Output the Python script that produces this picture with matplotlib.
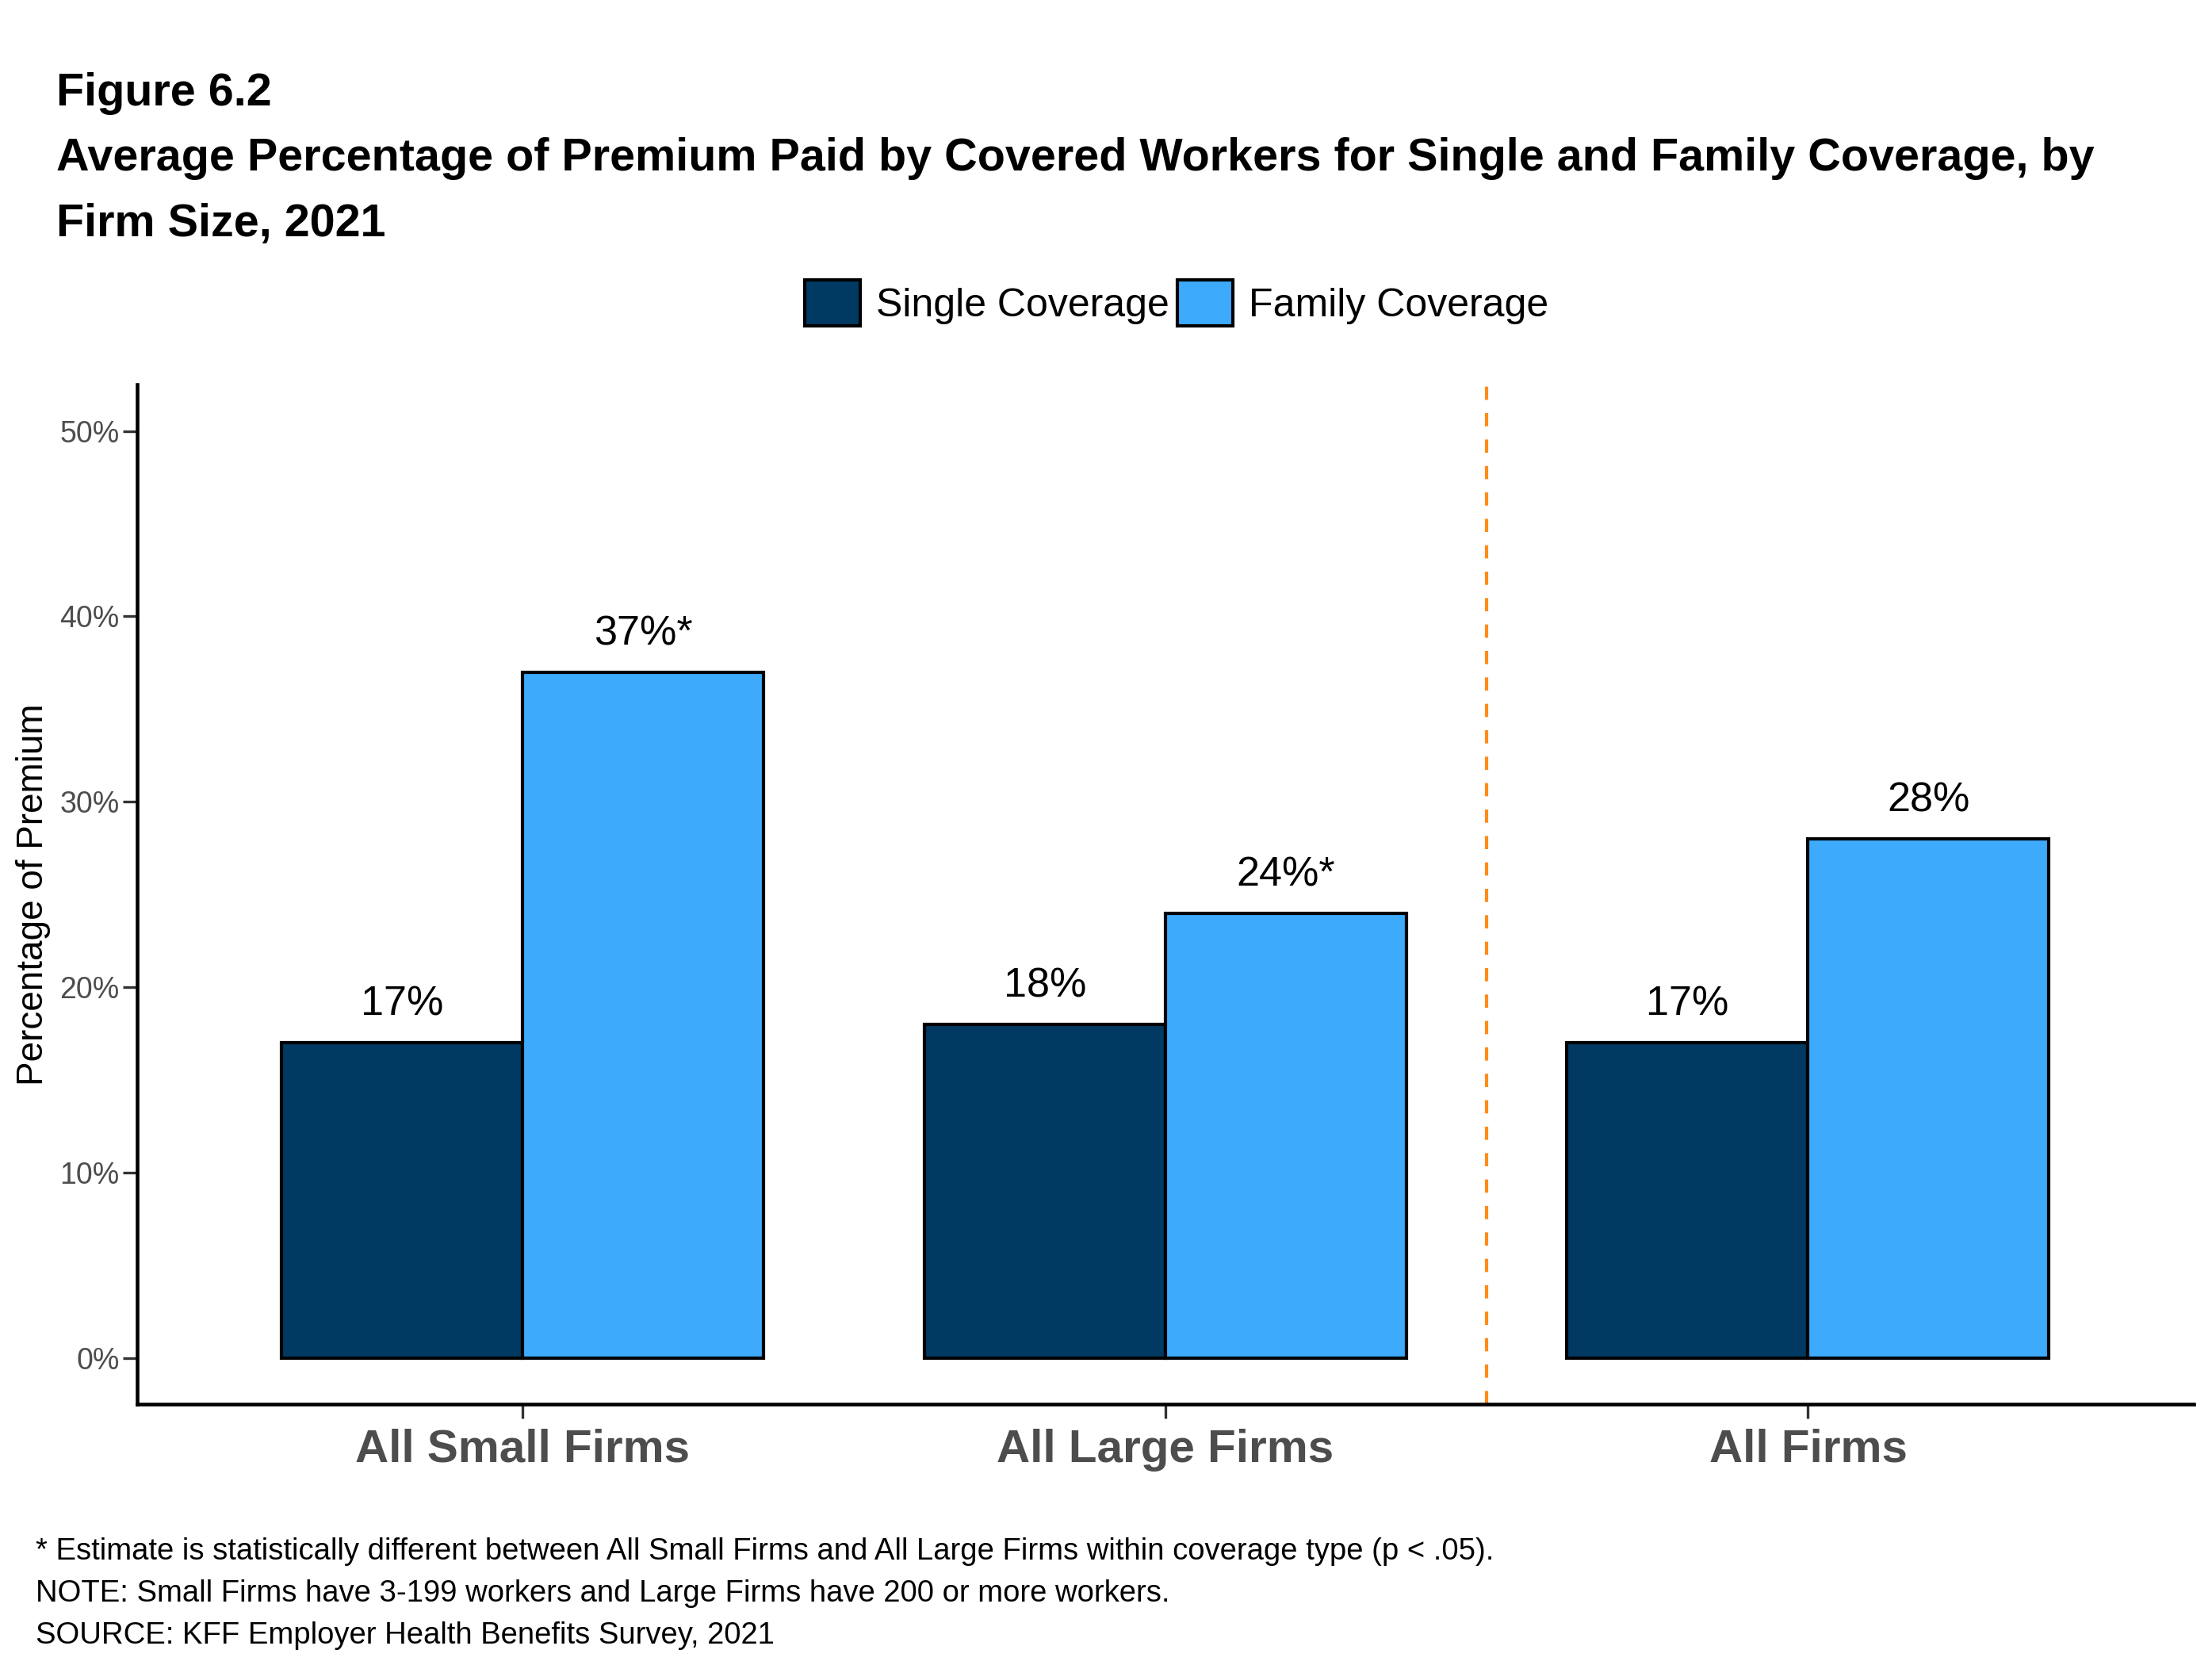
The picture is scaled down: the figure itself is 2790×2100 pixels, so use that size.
import numpy as np
import matplotlib
matplotlib.use("Agg")
from matplotlib import pyplot as plt
from matplotlib.patches import Patch

plt.rcParams["font.family"] = ["Liberation Sans", "DejaVu Sans"]

# data
firm_sizes = ["All Small Firms", "All Large Firms", "All Firms"]
single_cov = [17, 18, 17]
family_cov = [37, 24, 28]
single_labels = ["17%", "18%", "17%"]
family_labels = ["37%*", "24%*", "28%"]

col_single = "#003A63"
col_family = "#3DAAFC"

fig = plt.figure(figsize=(9.3, 7.0), dpi=300)
ax = fig.add_axes([0.0619, 0.1565, 0.9298, 0.6125])

x = np.arange(len(firm_sizes))
w = 0.375
ax.bar(x - w / 2, single_cov, w, color=col_single, edgecolor="black", linewidth=1.0)
ax.bar(x + w / 2, family_cov, w, color=col_family, edgecolor="black", linewidth=1.0)

for i in range(len(x)):
    ax.text(x[i] - w / 2, single_cov[i] + 1.0, single_labels[i], ha="center", va="bottom", fontsize=12.5)
    ax.text(x[i] + w / 2, family_cov[i] + 1.0, family_labels[i], ha="center", va="bottom", fontsize=12.5)

ax.axvline(1.5, color="#FF8C1A", linestyle=(0, (4, 4)), linewidth=1.0)

ax.set_xlim(-0.6, 2.6)
ax.set_ylim(-2.5, 52.5)
ax.set_yticks([0, 10, 20, 30, 40, 50])
ax.set_yticklabels(["0%", "10%", "20%", "30%", "40%", "50%"], fontsize=9, color="#4D4D4D")
ax.set_xticks(x)
ax.set_xticklabels(firm_sizes, fontsize=14, fontweight="bold", color="#4D4D4D")
ax.tick_params(axis="both", length=4.3, width=0.8, color="#333333")
ax.tick_params(axis="x", pad=3)
ax.tick_params(axis="y", pad=1)
ax.set_ylabel("Percentage of Premium", fontsize=11)
ax.yaxis.set_label_coords(-0.042, 0.5)

for s in ["top", "right"]:
    ax.spines[s].set_visible(False)
for s in ["left", "bottom"]:
    ax.spines[s].set_linewidth(1.1)

handles = [Patch(facecolor=col_single, edgecolor="black", linewidth=1.0, label="Single Coverage"),
           Patch(facecolor=col_family, edgecolor="black", linewidth=1.0, label="Family Coverage")]
fig.legend(handles=handles, loc="center", bbox_to_anchor=(0.532, 0.818), ncol=2, frameon=False,
           fontsize=12, handlelength=1.4, handleheight=1.4, handletextpad=0.4, columnspacing=0.2)

fig.text(0.0255, 0.9365, "Figure 6.2", fontsize=13.8, fontweight="bold")
fig.text(0.0255, 0.8976, "Average Percentage of Premium Paid by Covered Workers for Single and Family Coverage, by",
         fontsize=13.8, fontweight="bold")
fig.text(0.0255, 0.858, "Firm Size, 2021", fontsize=13.8, fontweight="bold")

fig.text(0.016, 0.0635, "* Estimate is statistically different between All Small Firms and All Large Firms within coverage type (p < .05).", fontsize=9.2)
fig.text(0.016, 0.0381, "NOTE: Small Firms have 3-199 workers and Large Firms have 200 or more workers.", fontsize=9.2)
fig.text(0.016, 0.0127, "SOURCE: KFF Employer Health Benefits Survey, 2021", fontsize=9.2)

fig.savefig("out.png", dpi=300)
